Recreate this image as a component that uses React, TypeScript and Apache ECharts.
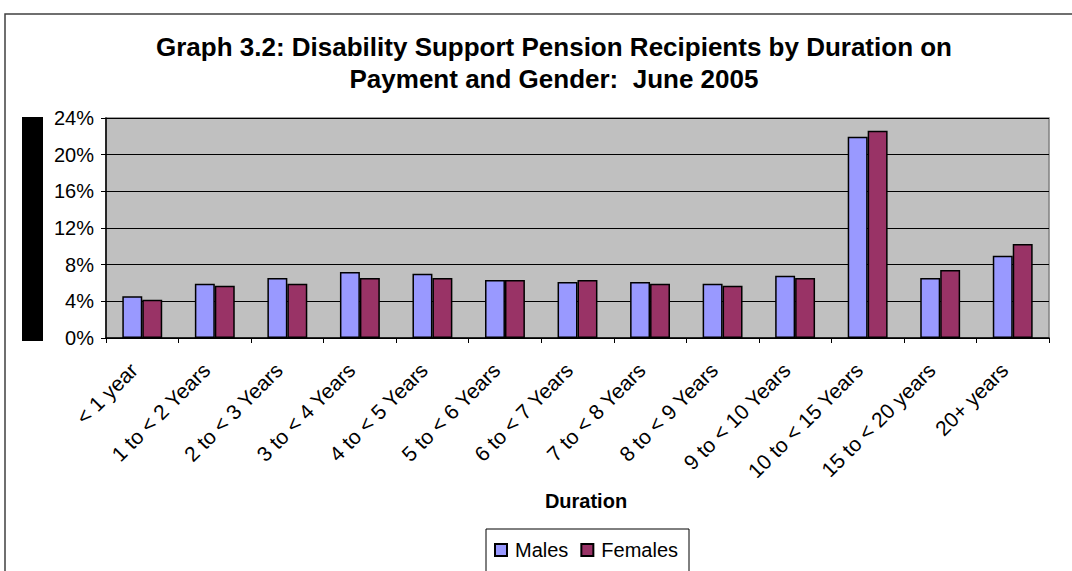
import React, { useEffect, useRef } from "react";
import * as echarts from "echarts";

const categories = [
  "< 1 year",
  "1 to < 2 Years",
  "2 to < 3 Years",
  "3 to < 4 Years",
  "4 to < 5 Years",
  "5 to < 6 Years",
  "6 to < 7 Years",
  "7 to < 8 Years",
  "8 to < 9 Years",
  "9 to < 10 Years",
  "10 to < 15 Years",
  "15 to < 20 years",
  "20+ years",
];
const males = [4.55, 5.93, 6.55, 7.2, 7.02, 6.33, 6.11, 6.11, 5.93, 6.8, 21.96, 6.55, 8.98];
const females = [4.18, 5.71, 5.93, 6.55, 6.55, 6.33, 6.33, 5.93, 5.71, 6.55, 22.6, 7.42, 10.25];
const yTicks = { min: 0, max: 24, interval: 4 };

const FONT = "Liberation Sans, Arial, sans-serif";

export default function App() {
  const ref = useRef<HTMLDivElement>(null);
  useEffect(() => {
    if (!ref.current) return;
    const chart = echarts.init(ref.current, undefined, { renderer: "svg" });
    chart.setOption({
      animation: false,
      backgroundColor: "#ffffff",
      title: {
        text: "Graph 3.2: Disability Support Pension Recipients by Duration on\nPayment and Gender:  June 2005",
        left: 549,
        textAlign: "center",
        top: 26,
        padding: 5,
        textStyle: { fontFamily: FONT, fontSize: 26, fontWeight: "bold", color: "#000", lineHeight: 32 },
      },
      graphic: [
        {
          type: "rect",
          shape: { x: 5, y: 14, width: 1100, height: 600 },
          style: { fill: "none", stroke: "#404040", lineWidth: 1.5 },
          silent: true,
        },
        {
          type: "rect",
          shape: { x: 22, y: 117, width: 21, height: 224 },
          style: { fill: "#000000" },
          silent: true,
        },
        {
          type: "rect",
          shape: { x: 486, y: 529, width: 203, height: 60 },
          style: { fill: "#ffffff", stroke: "#000000", lineWidth: 1 },
          silent: true,
          z: 0,
        },
        {
          type: "text",
          x: 586,
          y: 501,
          style: {
            text: "Duration",
            font: "bold 20px " + FONT,
            fill: "#000",
            textAlign: "center",
            textVerticalAlign: "middle",
          },
        },
      ],
      legend: {
        left: 494,
        top: 540,
        padding: 0,
        icon: "rect",
        itemWidth: 12,
        itemHeight: 12,
        itemGap: 12,
        textStyle: { fontFamily: FONT, fontSize: 20, color: "#000", padding: [0, 0, 0, 3] },
        data: ["Males", "Females"],
        z: 10,
      },
      grid: {
        left: 106,
        right: 23,
        top: 118,
        bottom: 233,
        show: true,
        backgroundColor: "#C0C0C0",
        borderColor: "#808080",
        borderWidth: 1.5,
      },
      xAxis: {
        type: "category",
        data: categories,
        axisLine: { lineStyle: { color: "#000", width: 1.5 } },
        axisTick: { show: true, length: 5, lineStyle: { color: "#000" } },
        axisLabel: {
          rotate: 45,
          interval: 0,
          fontFamily: FONT,
          fontSize: 21,
          color: "#000",
          margin: 20,
          padding: [0, 12, 0, 0],
        },
      },
      yAxis: {
        type: "value",
        min: yTicks.min,
        max: yTicks.max,
        interval: yTicks.interval,
        axisLine: { show: true, lineStyle: { color: "#000", width: 1.5 } },
        axisTick: { show: true, length: 5, lineStyle: { color: "#000" } },
        axisLabel: { formatter: "{value}%", fontFamily: FONT, fontSize: 20, color: "#000", margin: 12 },
        splitLine: { lineStyle: { color: "#000", width: 1 } },
      },
      series: [
        {
          name: "Males",
          type: "bar",
          data: males,
          barGap: "0%",
          barCategoryGap: "45%",
          itemStyle: { color: "#9999FF", borderColor: "#000", borderWidth: 1.5 },
        },
        {
          name: "Females",
          type: "bar",
          data: females,
          itemStyle: { color: "#993366", borderColor: "#000", borderWidth: 1.5 },
        },
      ],
    });
    return () => chart.dispose();
  }, []);
  return <div ref={ref} style={{ width: 1072, height: 571, position: "absolute", left: 0, top: 0 }} />;
}
